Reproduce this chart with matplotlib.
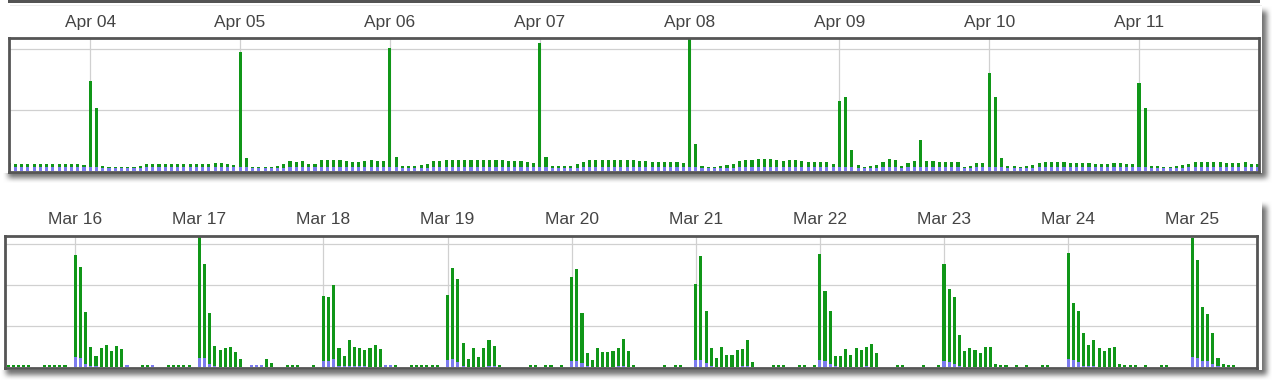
import numpy as np
import matplotlib.pyplot as plt

plt.rcParams['font.family'] = ['Liberation Sans', 'DejaVu Sans']

#########################################
# Données : une barre par heure (hauteurs)
#########################################
apr_labels = ["Apr 04", "Apr 05", "Apr 06", "Apr 07",
              "Apr 08", "Apr 09", "Apr 10", "Apr 11"]
apr_first_hour = -13          # Apr 03 11:00

apr03_tail = [8, 7, 7, 7, 7, 7, 7, 7, 7, 7, 7, 7, 6]
apr04 = [90, 63, 5, 4, 4, 4, 4, 4, 5, 7, 7, 7, 7, 7, 7, 7, 7, 7, 7, 7, 8, 8, 7, 6]
apr05 = [119, 13, 4, 4, 4, 4, 5, 7, 10, 9, 10, 7, 7, 11, 11, 11, 11, 10, 9, 9, 10, 11, 10, 10]
apr06 = [123, 14, 5, 5, 5, 6, 7, 10, 10, 11, 11, 11, 11, 11, 11, 11, 11, 11, 11, 10, 10, 10, 9, 8]
apr07 = [128, 14, 5, 5, 5, 5, 7, 9, 11, 11, 11, 11, 11, 11, 11, 11, 10, 10, 9, 9, 9, 9, 9, 8]
apr08 = [140, 27, 5, 4, 4, 5, 6, 7, 10, 11, 11, 12, 12, 12, 11, 10, 11, 11, 10, 9, 9, 9, 9, 7]
apr09 = [70, 74, 21, 6, 4, 5, 6, 9, 12, 11, 5, 8, 10, 31, 10, 10, 9, 9, 9, 9, 4, 5, 8, 8]
apr10 = [98, 74, 13, 5, 5, 4, 5, 6, 8, 9, 9, 9, 9, 8, 8, 8, 8, 7, 7, 7, 8, 8, 7, 7]
apr11_head = [88, 63, 5, 5, 4, 4, 5, 6, 7, 9, 9, 9, 9, 9, 8, 8, 8, 9, 7, 7]

apr03_blue = [4, 4, 4, 4, 4, 4, 4, 4, 4, 4, 4, 4, 4]
apr04_blue = [4, 4, 3, 3, 3, 3, 3, 3, 3, 4, 4, 4, 4, 4, 4, 4, 4, 4, 4, 4, 4, 4, 4, 4]
apr05_blue = [4, 4, 3, 3, 3, 3, 3, 3, 4, 4, 4, 4, 4, 4, 4, 4, 4, 4, 4, 4, 4, 4, 4, 4]
apr06_blue = [4, 4, 3, 3, 3, 3, 3, 4, 4, 4, 4, 4, 4, 4, 4, 4, 4, 4, 4, 4, 4, 4, 4, 4]
apr07_blue = [4, 4, 3, 3, 3, 3, 3, 4, 4, 4, 4, 4, 4, 4, 4, 4, 4, 4, 4, 4, 4, 4, 4, 4]
apr08_blue = [4, 4, 3, 3, 3, 3, 3, 3, 4, 4, 4, 4, 4, 4, 4, 4, 4, 4, 4, 4, 4, 4, 4, 4]
apr09_blue = [4, 4, 4, 3, 3, 3, 3, 4, 4, 4, 3, 4, 4, 4, 4, 4, 4, 4, 4, 4, 3, 3, 4, 4]
apr10_blue = [4, 4, 4, 3, 3, 3, 3, 3, 4, 4, 4, 4, 4, 4, 4, 4, 4, 4, 4, 4, 4, 4, 4, 4]
apr11_blue = [4, 4, 3, 3, 3, 3, 3, 3, 4, 4, 4, 4, 4, 4, 4, 4, 4, 4, 4, 4]

mar_labels = ["Mar 16", "Mar 17", "Mar 18", "Mar 19", "Mar 20",
              "Mar 21", "Mar 22", "Mar 23", "Mar 24", "Mar 25"]
mar_first_hour = -13          # Mar 15 11:00

mar15_tail = [2, 2, 2, 2, 2, 0, 0, 2, 2, 2, 2, 2, 0]
mar16 = [112, 100, 55, 20, 11, 19, 22, 16, 21, 18, 2, 0, 0, 2, 2, 2, 0, 0, 2, 2, 2, 2, 2, 0]
mar17 = [135, 103, 54, 21, 17, 19, 20, 15, 8, 0, 2, 2, 2, 8, 4, 0, 0, 2, 2, 2, 0, 0, 2, 0]
mar18 = [71, 70, 82, 19, 11, 27, 20, 19, 17, 19, 22, 18, 2, 2, 2, 0, 0, 2, 2, 2, 2, 2, 2, 0]
mar19 = [72, 99, 88, 24, 8, 19, 10, 19, 27, 21, 2, 0, 0, 0, 0, 0, 2, 2, 0, 2, 2, 0, 2, 0]
mar20 = [90, 98, 54, 14, 7, 19, 15, 15, 16, 19, 28, 16, 2, 0, 0, 0, 0, 0, 2, 0, 2, 2, 0, 0]
mar21 = [83, 111, 56, 19, 9, 20, 12, 12, 17, 18, 27, 5, 0, 0, 0, 2, 2, 2, 0, 0, 2, 2, 0, 2]
mar22 = [113, 76, 56, 11, 11, 18, 12, 19, 17, 20, 23, 14, 0, 0, 0, 2, 2, 0, 0, 0, 2, 0, 0, 2]
mar23 = [103, 78, 70, 32, 16, 19, 17, 14, 20, 20, 3, 2, 2, 0, 2, 0, 2, 0, 0, 2, 2, 0, 0, 0]
mar24 = [114, 64, 56, 34, 22, 27, 19, 16, 19, 20, 3, 2, 2, 2, 0, 2, 0, 0, 2, 2, 0, 0, 0, 0]
mar25_head = [129, 107, 60, 53, 34, 9, 3, 2, 2, 0, 0, 0, 0]

mar15_blue = [0, 0, 0, 0, 0, 0, 0, 0, 0, 0, 0, 0, 0]
mar16_blue = [10, 9, 3, 1, 1, 0, 0, 0, 0, 0, 2, 0, 0, 0, 0, 2, 0, 0, 0, 0, 0, 0, 0, 0]
mar17_blue = [9, 9, 3, 1, 0, 0, 0, 0, 0, 0, 2, 2, 2, 0, 0, 0, 0, 0, 0, 0, 0, 0, 0, 0]
mar18_blue = [6, 6, 8, 1, 1, 1, 1, 1, 1, 0, 0, 0, 2, 2, 0, 0, 0, 0, 0, 0, 0, 0, 0, 0]
mar19_blue = [7, 8, 5, 1, 0, 0, 0, 0, 1, 1, 0, 0, 0, 0, 0, 0, 0, 0, 0, 0, 0, 0, 0, 0]
mar20_blue = [6, 6, 4, 1, 0, 0, 0, 0, 0, 1, 1, 0, 0, 0, 0, 0, 0, 0, 0, 0, 0, 0, 0, 0]
mar21_blue = [7, 7, 4, 1, 0, 0, 0, 0, 0, 1, 1, 0, 0, 0, 0, 0, 0, 0, 0, 0, 0, 0, 0, 0]
mar22_blue = [7, 6, 3, 1, 0, 0, 0, 0, 0, 1, 0, 0, 0, 0, 0, 0, 0, 0, 0, 0, 0, 0, 0, 0]
mar23_blue = [6, 5, 3, 1, 0, 0, 0, 0, 0, 0, 0, 0, 0, 0, 0, 0, 0, 0, 0, 0, 0, 0, 0, 0]
mar24_blue = [8, 7, 5, 1, 1, 1, 0, 0, 0, 0, 0, 0, 0, 0, 0, 0, 0, 0, 0, 0, 0, 0, 0, 0]
mar25_blue = [10, 9, 6, 6, 3, 1, 0, 0, 0, 0, 0, 0, 0]

GREEN = '#109618'
BLUE = '#7b7bef'
FRAME = '#555555'
GRID = '#d0d0d0'
TEXT = '#444444'

#########################################
# Mise en page (pixels de l'image)
#########################################
W, H = 1279, 389
fig = plt.figure(figsize=(W / 100, H / 100), dpi=100)


def fig_box(x0, y0, x1, y1):
    return [x0 / W, 1 - y1 / H, (x1 - x0) / W, (y1 - y0) / H]


def box_blur(a, r):
    k = 2 * r + 1
    p = np.pad(a, ((0, 0), (r, r)), mode='constant')
    c = np.concatenate([np.zeros((a.shape[0], 1)), np.cumsum(p, axis=1)], axis=1)
    a = (c[:, k:] - c[:, :-k]) / k
    p = np.pad(a, ((r, r), (0, 0)), mode='constant')
    c = np.concatenate([np.zeros((1, a.shape[1])), np.cumsum(p, axis=0)], axis=0)
    return (c[k:, :] - c[:-k, :]) / k


# fond : cartes blanches avec ombre portée
cards = [(3, 6, 1262, 173), (1, 201, 1262, 370)]
shadow = np.zeros((H, W))
for x0, y0, x1, y1 in cards:
    shadow[y0 + 5:y1 + 5, x0 + 5:x1 + 5] = 1.0
shadow = box_blur(box_blur(shadow, 3), 2)
bg = 1.0 - 0.55 * shadow
for x0, y0, x1, y1 in cards:
    bg[y0:y1, x0:x1] = 1.0
bg[0:3, 8:1260] = 0.33           # bas du cadre du graphique précédent
bg[5, 10:1262] = 0.93
bg_rgb = np.dstack([bg, bg, bg])
fig.figimage(bg_rgb, xo=0, yo=0, origin='upper', zorder=-10)


def draw_panel(box, totals, blues, first_hour, labels, width, ylim, yticks, xlim, pad):
    ax = fig.add_axes(fig_box(*box))
    ax.set_zorder(5)
    totals = np.array(totals, dtype=float)
    blues = np.array(blues, dtype=float)
    hours = np.arange(first_hour, first_hour + len(totals))
    ax.bar(hours, blues, width, color=BLUE, linewidth=0)
    ax.bar(hours, totals - blues, width, bottom=blues, color=GREEN, linewidth=0)

    ax.set_xlim(*xlim)
    ax.set_ylim(*ylim)
    ax.set_xticks(np.arange(len(labels)) * 24)
    ax.set_xticklabels(labels)
    ax.set_yticks(yticks)
    ax.xaxis.tick_top()
    ax.tick_params(axis='x', length=0, pad=pad, labelsize=12.5, labelcolor=TEXT)
    ax.tick_params(axis='y', length=0, labelleft=False)
    ax.set_axisbelow(True)
    ax.grid(True, color=GRID, linewidth=0.9)
    ax.set_facecolor('white')
    for s in ax.spines.values():
        s.set_color(FRAME)
        s.set_linewidth(2.0)
    return ax


apr_totals = (apr03_tail + apr04 + apr05 + apr06 + apr07 + apr08 + apr09
              + apr10 + apr11_head)
apr_blues = (apr03_blue + apr04_blue + apr05_blue + apr06_blue + apr07_blue
             + apr08_blue + apr09_blue + apr10_blue + apr11_blue)
draw_panel((8.7, 38.3, 1259, 172.2), apr_totals, apr_blues, apr_first_hour,
           apr_labels, 0.5, (-1.5, 132.4), [61, 122], (-13.07, 187.23), 6)

mar_totals = (mar15_tail + mar16 + mar17 + mar18 + mar19 + mar20 + mar21
              + mar22 + mar23 + mar24 + mar25_head)
mar_blues = (mar15_blue + mar16_blue + mar17_blue + mar18_blue + mar19_blue
             + mar20_blue + mar21_blue + mar22_blue + mar23_blue + mar24_blue
             + mar25_blue)
draw_panel((5.3, 235.7, 1257.3, 368.3), mar_totals, mar_blues, mar_first_hour,
           mar_labels, 0.6, (-1.3, 131.3), [41, 82, 123], (-13.54, 228.6), 6.5)

fig.savefig('out.png', dpi=100)
